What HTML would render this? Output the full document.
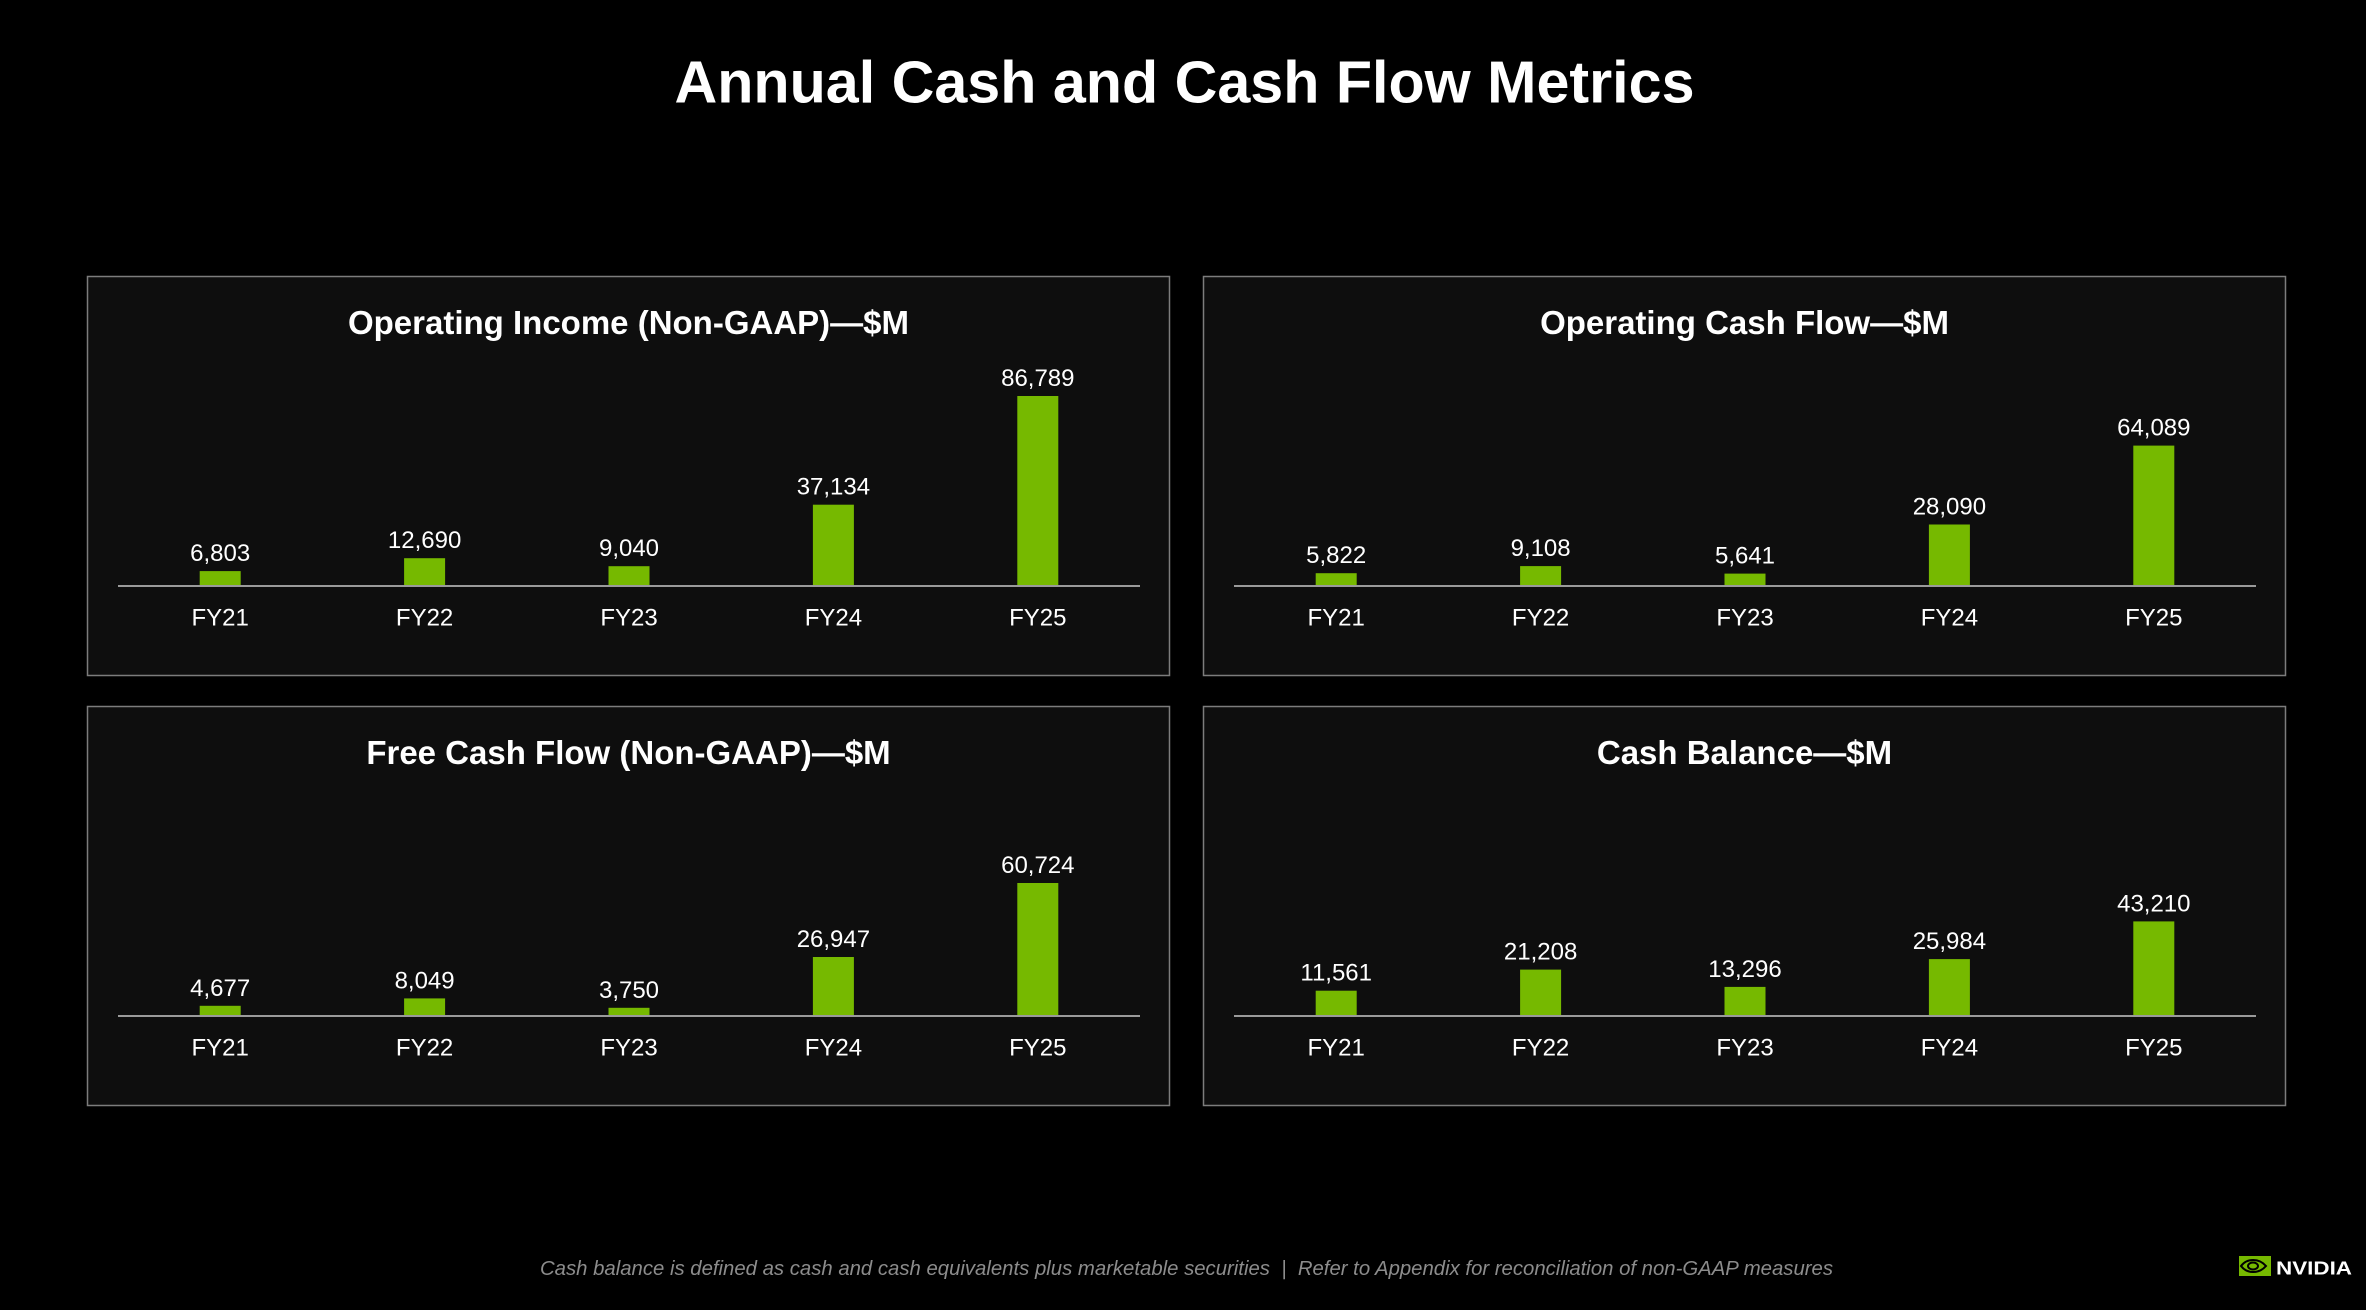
<!DOCTYPE html>
<html>
<head>
<meta charset="utf-8">
<style>
  html, body { margin:0; padding:0; background:#000; }
  body { width:2366px; height:1310px; overflow:hidden; }
  svg { display:block; }
  .t { font-family:"Liberation Sans", sans-serif; fill:#fff; }
</style>
</head>
<body>
<svg width="2366" height="1310" viewBox="0 0 2366 1310" xmlns="http://www.w3.org/2000/svg">
  <rect x="0" y="0" width="2366" height="1310" fill="#000"/>

  <!-- Main title -->
  <text class="t" x="674.5" y="102.7" font-size="59" font-weight="bold" textLength="1020" lengthAdjust="spacingAndGlyphs">Annual Cash and Cash Flow Metrics</text>

  <!-- Panels -->
  <g fill="#0e0e0e" stroke="#7c7c7c" stroke-width="1.5">
    <rect x="87.5" y="276.5" width="1082" height="399"/>
    <rect x="1203.5" y="276.5" width="1082" height="399"/>
    <rect x="87.5" y="706.5" width="1082" height="399"/>
    <rect x="1203.5" y="706.5" width="1082" height="399"/>
  </g>

  <!-- Panel titles -->
  <g class="t" font-size="33" font-weight="bold" text-anchor="middle">
    <text class="t" x="628.5" y="334">Operating Income (Non-GAAP)—$M</text>
    <text class="t" x="1744.5" y="334">Operating Cash Flow—$M</text>
    <text class="t" x="628.5" y="764">Free Cash Flow (Non-GAAP)—$M</text>
    <text class="t" x="1744.5" y="764">Cash Balance—$M</text>
  </g>

  <!-- ===== Top-left: Operating Income ===== -->
  <g fill="#76b900">
    <rect x="199.7" y="571.1" width="41" height="14.9"/>
    <rect x="404.1" y="558.2" width="41" height="27.8"/>
    <rect x="608.5" y="566.2" width="41" height="19.8"/>
    <rect x="812.9" y="504.7" width="41" height="81.3"/>
    <rect x="1017.3" y="396.0" width="41" height="190.0"/>
  </g>
  <rect x="118" y="585" width="1022" height="2" fill="#9a9a9a"/>
  <g font-size="24" text-anchor="middle">
    <text class="t" x="220.2" y="561.1">6,803</text>
    <text class="t" x="424.6" y="548.2">12,690</text>
    <text class="t" x="629" y="556.2">9,040</text>
    <text class="t" x="833.4" y="494.7">37,134</text>
    <text class="t" x="1037.8" y="386.0">86,789</text>
    <text class="t" x="220.2" y="625.5">FY21</text>
    <text class="t" x="424.6" y="625.5">FY22</text>
    <text class="t" x="629" y="625.5">FY23</text>
    <text class="t" x="833.4" y="625.5">FY24</text>
    <text class="t" x="1037.8" y="625.5">FY25</text>
  </g>

  <!-- ===== Top-right: Operating Cash Flow ===== -->
  <g fill="#76b900">
    <rect x="1315.7" y="573.2" width="41" height="12.8"/>
    <rect x="1520.1" y="566.1" width="41" height="19.9"/>
    <rect x="1724.5" y="573.6" width="41" height="12.4"/>
    <rect x="1928.9" y="524.5" width="41" height="61.5"/>
    <rect x="2133.3" y="445.6" width="41" height="140.4"/>
  </g>
  <rect x="1234" y="585" width="1022" height="2" fill="#9a9a9a"/>
  <g font-size="24" text-anchor="middle">
    <text class="t" x="1336.2" y="563.2">5,822</text>
    <text class="t" x="1540.6" y="556.1">9,108</text>
    <text class="t" x="1745" y="563.6">5,641</text>
    <text class="t" x="1949.4" y="514.5">28,090</text>
    <text class="t" x="2153.8" y="435.6">64,089</text>
    <text class="t" x="1336.2" y="625.5">FY21</text>
    <text class="t" x="1540.6" y="625.5">FY22</text>
    <text class="t" x="1745" y="625.5">FY23</text>
    <text class="t" x="1949.4" y="625.5">FY24</text>
    <text class="t" x="2153.8" y="625.5">FY25</text>
  </g>

  <!-- ===== Bottom-left: Free Cash Flow ===== -->
  <g fill="#76b900">
    <rect x="199.7" y="1005.8" width="41" height="10.2"/>
    <rect x="404.1" y="998.4" width="41" height="17.6"/>
    <rect x="608.5" y="1007.8" width="41" height="8.2"/>
    <rect x="812.9" y="957.0" width="41" height="59.0"/>
    <rect x="1017.3" y="883.0" width="41" height="133.0"/>
  </g>
  <rect x="118" y="1015" width="1022" height="2" fill="#9a9a9a"/>
  <g font-size="24" text-anchor="middle">
    <text class="t" x="220.2" y="995.8">4,677</text>
    <text class="t" x="424.6" y="988.4">8,049</text>
    <text class="t" x="629" y="997.8">3,750</text>
    <text class="t" x="833.4" y="947.0">26,947</text>
    <text class="t" x="1037.8" y="873.0">60,724</text>
    <text class="t" x="220.2" y="1055.5">FY21</text>
    <text class="t" x="424.6" y="1055.5">FY22</text>
    <text class="t" x="629" y="1055.5">FY23</text>
    <text class="t" x="833.4" y="1055.5">FY24</text>
    <text class="t" x="1037.8" y="1055.5">FY25</text>
  </g>

  <!-- ===== Bottom-right: Cash Balance ===== -->
  <g fill="#76b900">
    <rect x="1315.7" y="990.7" width="41" height="25.3"/>
    <rect x="1520.1" y="969.6" width="41" height="46.4"/>
    <rect x="1724.5" y="986.9" width="41" height="29.1"/>
    <rect x="1928.9" y="959.1" width="41" height="56.9"/>
    <rect x="2133.3" y="921.4" width="41" height="94.6"/>
  </g>
  <rect x="1234" y="1015" width="1022" height="2" fill="#9a9a9a"/>
  <g font-size="24" text-anchor="middle">
    <text class="t" x="1336.2" y="980.7">11,561</text>
    <text class="t" x="1540.6" y="959.6">21,208</text>
    <text class="t" x="1745" y="976.9">13,296</text>
    <text class="t" x="1949.4" y="949.1">25,984</text>
    <text class="t" x="2153.8" y="911.4">43,210</text>
    <text class="t" x="1336.2" y="1055.5">FY21</text>
    <text class="t" x="1540.6" y="1055.5">FY22</text>
    <text class="t" x="1745" y="1055.5">FY23</text>
    <text class="t" x="1949.4" y="1055.5">FY24</text>
    <text class="t" x="2153.8" y="1055.5">FY25</text>
  </g>

  <!-- Footer -->
  <text x="540" y="1275" font-family="Liberation Sans, sans-serif" font-size="20" font-style="italic" fill="#8c8c8c" textLength="1293" lengthAdjust="spacingAndGlyphs">Cash balance is defined as cash and cash equivalents plus marketable securities&#160;&#160;|&#160;&#160;Refer to Appendix for reconciliation of non-GAAP measures</text>

  <!-- NVIDIA logo -->
  <g>
    <rect x="2239" y="1256" width="32" height="20" fill="#76b900"/>
    <path d="M2241 1266 C2247 1258, 2259 1258, 2266 1266 C2259 1274, 2247 1274, 2241 1266 Z" fill="none" stroke="#000" stroke-width="2"/>
    <ellipse cx="2253" cy="1266" rx="5" ry="3.5" fill="none" stroke="#000" stroke-width="2"/>
    <text x="2276" y="1274.3" font-family="Liberation Sans, sans-serif" font-size="18" font-weight="bold" fill="#fff" textLength="76" lengthAdjust="spacingAndGlyphs">NVIDIA</text>
  </g>
</svg>
</body>
</html>
